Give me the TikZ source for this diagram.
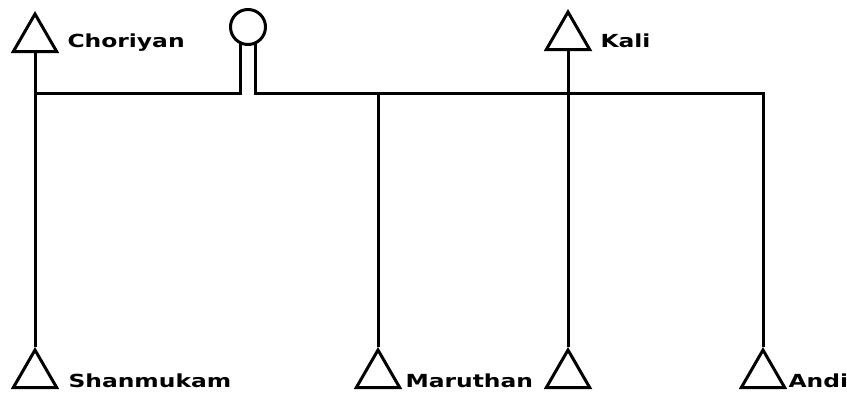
\documentclass[tikz,border=0pt]{standalone}
\usepackage{fontspec}
\usetikzlibrary{shapes.geometric}
\newfontfamily\namefont[FakeStretch=1.3]{DejaVu Sans}
\tikzset{
  male/.style={regular polygon, regular polygon sides=3, draw, minimum size=50pt, inner sep=0pt},
  female/.style={circle, draw, minimum size=35pt, inner sep=0pt},
  kinname/.style={anchor=west, inner sep=0pt, font=\namefont\bfseries\fontsize{18pt}{18pt}\selectfont}
}
\begin{document}
\begin{tikzpicture}[x=1pt,y=-1pt,line width=3pt]
	\useasboundingbox (0,0) rectangle (847,394);

	\node[male] (choriyan) at (35,39) {};
	\node[female] (ego) at (248,27) {};
	\node[male] (kali) at (568,37) {};
	\node[male] (shanmukam) at (35,375) {};
	\node[male] (maruthan) at (378,375) {};
	\node[male] (kalison) at (568,375) {};
	\node[male] (andi) at (763,375) {};

	\node[kinname] (choriyanname) at (66,43) {Choriyan};
	\node[kinname] (kaliname) at (599,41) {Kali};
	\node[kinname] (shanmukamname) at (67,381) {Shanmukam};
	\node[kinname] (maruthanname) at (404,381) {Maruthan};
	\node[kinname] (andiname) at (787,381) {Andi};

	\coordinate (barL) at (35,93);
	\coordinate (barR) at (763,93);

	\draw (choriyan.south) -- (shanmukam.corner 1);
	\draw (kali.south) -- (kalison.corner 1);
	\draw (ego.-114) |- (barL);
	\draw (ego.-66) |- (barR) -- (andi.corner 1);
	\draw (maruthan.corner 1 |- barR) -- (maruthan.corner 1);

\end{tikzpicture}
\end{document}
